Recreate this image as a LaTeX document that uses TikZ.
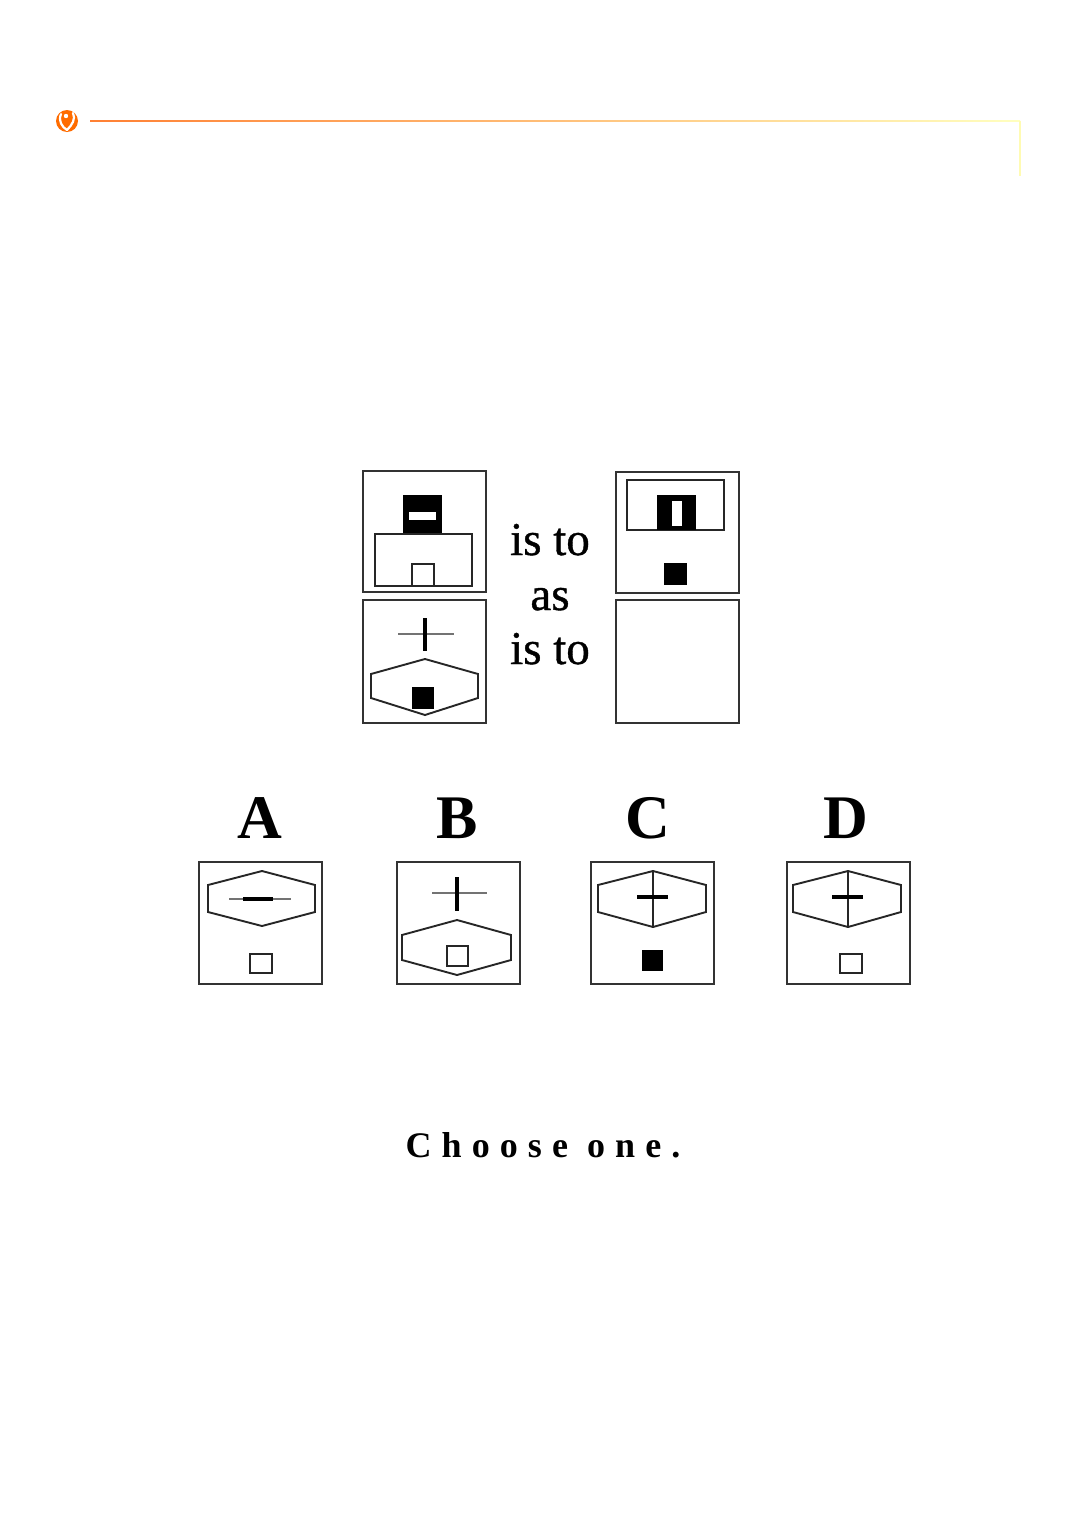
\documentclass[tikz,border=0pt]{standalone}
\usepackage{fontspec}
\setmainfont{Liberation Serif}
\newfontfamily\spacedfont[LetterSpace=28]{Liberation Serif}
\newfontfamily\heavyserif[FakeBold=0.8]{Liberation Serif}
\begin{document}
\begin{tikzpicture}[x=1pt,y=-1pt,
  framebox/.style={draw=black!80, line width=2.4},
  figline/.style={draw=black!85, line width=1.9},
  thinline/.style={draw=black!55, line width=1.3},
  heavyline/.style={draw=black, line width=3.5},
  blackfill/.style={fill=black},
  whitefill/.style={fill=white},
  label/.style={font=\fontsize{62}{70}\selectfont\bfseries, anchor=base},
  word/.style={font=\heavyserif\fontsize{47}{55}\selectfont, anchor=base}]
\useasboundingbox (0,0) rectangle (1071,1515);
\fill[white] (0,0) rectangle (1071,1515);
% header
\shade[left color=orange!75!red!80, right color=yellow!25] (90,120.2) rectangle (1020,121.8);
\draw[yellow!30!white, line width=1.6] (1020,121) -- (1020,176);
\fill[orange!85!red] (67,121) circle (11);
\draw[white, line width=2.2, line cap=round] (61,114) .. controls (58,121) and (62,127) .. (67,130);
\draw[white, line width=2.2, line cap=round] (73,113) .. controls (76,119) and (72,125) .. (67,130);
\fill[white] (66,116) circle (2.2);
% box 1
\draw[framebox] (363,471) rectangle (486,592);
\fill[blackfill] (403,495) rectangle (442,534);
\fill[whitefill] (409,512) rectangle (436,520);
\draw[figline] (375,534) rectangle (472,586);
\draw[figline] (412,564) rectangle (434,586);
% box 2
\draw[framebox] (363,600) rectangle (486,723);
\draw[thinline] (398,634) -- (454,634);
\draw[heavyline] (425,618) -- (425,651);
\draw[figline] (425,659) -- (478,674) -- (478,698) -- (425,715) -- (371,698) -- (371,674) -- cycle;
\fill[blackfill] (412,687) rectangle (434,709);
% box 3
\draw[framebox] (616,472) rectangle (739,593);
\draw[figline] (627,480) rectangle (724,530);
\fill[blackfill] (657,495) rectangle (696,530);
\fill[whitefill] (672,501) rectangle (682,526);
\fill[blackfill] (664,563) rectangle (687,585);
% box 4
\draw[framebox] (616,600) rectangle (739,723);
% words
\node[word] (w1) at (550,555) {is to};
\node[word] (w2) at (550,610) {as};
\node[word] (w3) at (550,664) {is to};
% labels
\node[label] (la) at (260,838) {A};
\node[label] (lb) at (457,838) {B};
\node[label] (lc) at (648,838) {C};
\node[label] (ld) at (846,838) {D};
% option A
\draw[framebox] (199,862) rectangle (322,984);
\draw[figline] (262,871) -- (315,885) -- (315,912) -- (262,926) -- (208,912) -- (208,885) -- cycle;
\draw[thinline] (229,899) -- (291,899);
\draw[heavyline] (243,899) -- (273,899);
\draw[figline] (250,954) rectangle (272,973);
% option B
\draw[framebox] (397,862) rectangle (520,984);
\draw[thinline] (432,893) -- (487,893);
\draw[heavyline] (457,877) -- (457,911);
\draw[figline] (457,920) -- (511,935) -- (511,960) -- (457,975) -- (402,960) -- (402,935) -- cycle;
\draw[figline] (447,946) rectangle (468,966);
% option C
\draw[framebox] (591,862) rectangle (714,984);
\draw[figline] (653,871) -- (706,885) -- (706,912) -- (653,927) -- (598,912) -- (598,885) -- cycle;
\draw[figline] (653,871) -- (653,927);
\draw[heavyline] (637,897) -- (668,897);
\fill[blackfill] (642,950) rectangle (663,971);
% option D
\draw[framebox] (787,862) rectangle (910,984);
\draw[figline] (848,871) -- (901,885) -- (901,912) -- (848,927) -- (793,912) -- (793,885) -- cycle;
\draw[figline] (848,871) -- (848,927);
\draw[heavyline] (832,897) -- (863,897);
\draw[figline] (840,954) rectangle (862,973);
% footer
\node[font=\spacedfont\fontsize{36}{40}\selectfont\bfseries, anchor=base] (choose) at (543,1157) {Choose one.};
\end{tikzpicture}
\end{document}
